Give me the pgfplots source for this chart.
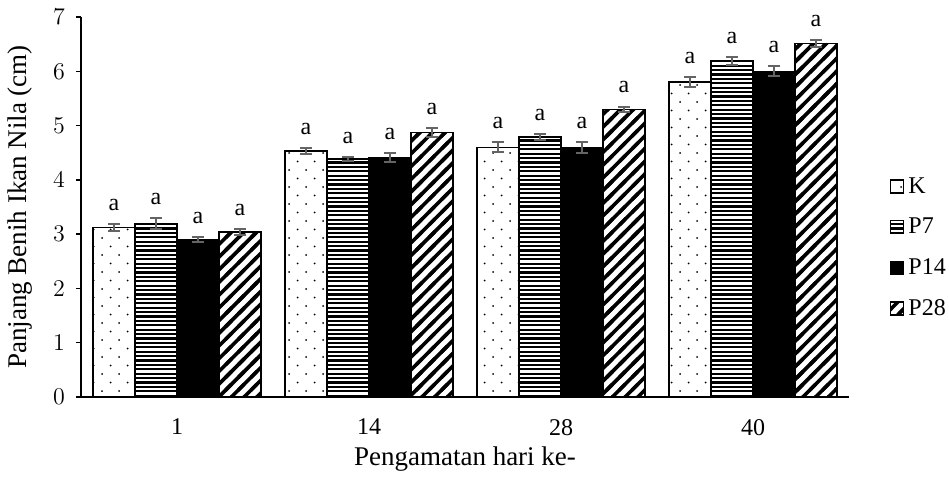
\documentclass[border=0pt]{standalone}
\usepackage{pgfplots}
\pgfplotsset{compat=1.18}
\usepackage{pgfplotstable}
\usepackage{fontspec}
\setmainfont{Liberation Serif}
\usetikzlibrary{patterns}

\definecolor{errgray}{RGB}{100,100,100}

\pgfdeclarepatternformonly{sdots}{\pgfqpoint{-1pt}{-1pt}}{\pgfqpoint{9.5pt}{9.5pt}}{\pgfqpoint{8.5pt}{8.5pt}}{%
  \pgfpathcircle{\pgfqpoint{0pt}{0pt}}{0.5pt}%
  \pgfpathcircle{\pgfqpoint{4.25pt}{4.25pt}}{0.5pt}%
  \pgfusepath{fill}}
\pgfdeclarepatternformonly{hstripes}{\pgfqpoint{-1pt}{0pt}}{\pgfqpoint{31pt}{2.2pt}}{\pgfqpoint{30pt}{2.2pt}}{%
  \pgfpathrectangle{\pgfqpoint{-1pt}{0pt}}{\pgfqpoint{32pt}{1.1pt}}%
  \pgfusepath{fill}}
\pgfdeclarepatternformonly{dstripes}{\pgfqpoint{-2pt}{-2pt}}{\pgfqpoint{8.35pt}{8.35pt}}{\pgfqpoint{6.35pt}{6.35pt}}{%
  \pgfsetlinewidth{1.8pt}%
  \pgfpathmoveto{\pgfqpoint{-2pt}{-2pt}}%
  \pgfpathlineto{\pgfqpoint{8.35pt}{8.35pt}}%
  \pgfusepath{stroke}}

\pgfplotstableread{
x y err
0 3.12 0.07
1 4.53 0.06
2 4.60 0.09
3 5.80 0.09
}\tK
\pgfplotstableread{
x y err
0 3.19 0.10
1 4.38 0.04
2 4.79 0.05
3 6.19 0.07
}\tPseven
\pgfplotstableread{
x y err
0 2.90 0.05
1 4.41 0.08
2 4.59 0.10
3 6.00 0.09
}\tPfourteen
\pgfplotstableread{
x y err
0 3.04 0.06
1 4.87 0.08
2 5.30 0.05
3 6.51 0.06
}\tPtwentyeight

\pgfplotsset{lbl/.style={forget plot, draw=none, fill=none, bar shift=0pt,
  error bars/y dir=none,
  nodes near coords={a},
  every node near coord/.append style={anchor=south, inner sep=0pt, yshift=6.5pt, font=\fontsize{12}{14}\selectfont, text=black}}}

\begin{document}
\begin{tikzpicture}
\begin{axis}[
  scale only axis, width=384pt, height=190pt,
  ybar, bar width=21pt,
  xmin=-0.5, xmax=3.5, ymin=0, ymax=7,
  axis lines=left, axis line style={-, line width=0.75pt, black},
  xtick={0,1,2,3}, xticklabels={1,14,28,40},
  x tick style={draw=none},
  ytick={0,1,...,7}, y tick style={line width=0.75pt, black},
  tick align=outside, major tick length=2.5pt,
  tick label style={font=\fontsize{12}{14}\selectfont},
  xticklabel style={yshift=-5pt},
  yticklabel style={xshift=-2pt},
  xlabel={Pengamatan hari ke-},
  ylabel={Panjang Benih Ikan Nila (cm)},
  label style={font=\fontsize{13.5}{16}\selectfont},
  xlabel style={at={(rel axis cs:0.5,0)}, anchor=center, yshift=-31pt},
  ylabel style={at={(rel axis cs:-0.0794,0.5)}, anchor=center},
  error bars/y dir=both, error bars/y explicit,
  error bars/error bar style={errgray, line width=1pt},
  error bars/error mark options={errgray, rotate=90, mark size=3pt, line width=1pt},
  legend style={at={(rel axis cs:1.045,0.392)}, anchor=west, draw=none, fill=none, font=\fontsize{12}{14}\selectfont, row sep=7pt, /tikz/every even column/.append style={column sep=1pt}},
  legend cell align=left,
  legend image code/.code={\draw[#1, line width=0.75pt] (0pt,-3pt) rectangle (6.5pt,3.5pt);},
]
\addplot[draw=black, line width=0.75pt, pattern=sdots, pattern color=black, bar shift=-31.5pt] table[x=x, y=y, y error=err]{\tK};
\addplot[draw=black, line width=0.75pt, pattern=hstripes, pattern color=black, bar shift=-10.5pt] table[x=x, y=y, y error=err]{\tPseven};
\addplot[draw=black, line width=0.75pt, fill=black, bar shift=10.5pt] table[x=x, y=y, y error=err]{\tPfourteen};
\addplot[draw=black, line width=0.75pt, pattern=dstripes, pattern color=black, bar shift=31.5pt] table[x=x, y=y, y error=err]{\tPtwentyeight};
\legend{K, P7, P14, P28}
\addplot[lbl] table[x expr=\thisrow{x}-0.328125, y expr=\thisrow{y}+\thisrow{err}]{\tK};
\addplot[lbl] table[x expr=\thisrow{x}-0.109375, y expr=\thisrow{y}+\thisrow{err}]{\tPseven};
\addplot[lbl] table[x expr=\thisrow{x}+0.109375, y expr=\thisrow{y}+\thisrow{err}]{\tPfourteen};
\addplot[lbl] table[x expr=\thisrow{x}+0.328125, y expr=\thisrow{y}+\thisrow{err}]{\tPtwentyeight};
\coordinate (bl) at (rel axis cs:0,0);
\coordinate (tr) at (rel axis cs:1,1);
\end{axis}
\pgfresetboundingbox
\path[use as bounding box] ([shift={(-40.5pt,-39.5pt)}]bl) rectangle ([shift={(50pt,8.5pt)}]tr);
\end{tikzpicture}
\end{document}
